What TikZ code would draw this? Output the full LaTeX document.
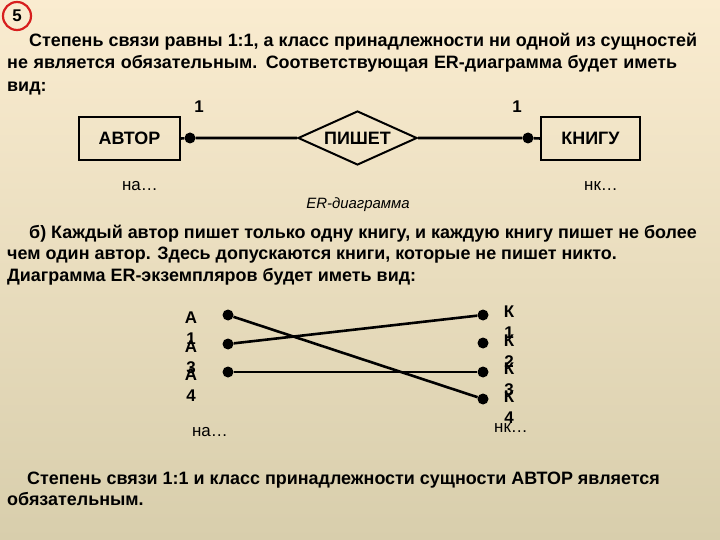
\documentclass[tikz,border=0pt]{standalone}
\usepackage{fontspec}
\setmainfont{Liberation Sans}
\usetikzlibrary{shapes.geometric}
\definecolor{bgtop}{RGB}{250,236,208}
\definecolor{bgbot}{RGB}{216,206,172}
\definecolor{ringred}{RGB}{215,30,30}
\begin{document}
\begin{tikzpicture}[x=1bp,y=-1bp,
  txt/.style={inner sep=0pt,anchor=base west,font=\fontsize{18}{21}\selectfont\bfseries},
  lbl/.style={inner sep=0pt,font=\fontsize{17}{20}\selectfont\bfseries},
  thin lbl/.style={inner sep=0pt,font=\fontsize{17}{20}\selectfont},
  entity/.style={draw,line width=1.6bp,minimum width=101bp,minimum height=43bp,inner sep=0pt,font=\fontsize{18}{21}\selectfont\bfseries},
  rel/.style={draw,diamond,aspect=2,line width=2bp,minimum width=119bp,minimum height=54bp,inner sep=0pt,font=\fontsize{18}{21}\selectfont\bfseries},
  dot/.style={circle,fill=black,inner sep=0pt,minimum size=11bp},
  conn/.style={line width=2.6bp},
  pair/.style={inner sep=0pt,align=center,font=\fontsize{17}{21}\selectfont\bfseries}
]
\useasboundingbox (0,0) rectangle (720,540);
\shade[top color=bgtop,bottom color=bgbot] (0,0) rectangle (720,540);

% badge
\node[circle,draw=ringred,line width=2.2bp,minimum size=28bp,inner sep=0pt,font=\fontsize{17}{19}\selectfont\bfseries] (badge) at (17,16) {5};

% paragraph 1
\node[txt] (p1a) at (29,47) {Степень связи равны 1:1, а класс принадлежности ни одной из сущностей};
\node[txt] (p1b) at (7,69) {\makebox[670bp][s]{не является обязательным. Соответствующая ER-диаграмма будет иметь}};
\node[txt] (p1c) at (7,92) {вид:};

% ER diagram
\node[entity] (avtor) at (129.5,138.5) {АВТОР};
\node[rel] (pishet) at (357.5,138) {ПИШЕТ};
\node[entity,minimum width=99bp] (knigu) at (590.5,138.5) {КНИГУ};
\node[dot] (d1) at (190,138) {};
\node[dot] (d2) at (528,138) {};
\draw[conn] (avtor.east) -- (d1) -- (pishet.west);
\draw[conn] (pishet.east) -- (d2) -- (knigu.west);
\node[lbl] (one1) at (199,107) {1};
\node[lbl] (one2) at (517,107) {1};
\node[thin lbl] (na1) at (140,186) {на…};
\node[thin lbl] (nk1) at (601,186) {нк…};
\node[inner sep=0pt,font=\fontsize{15}{17}\selectfont\itshape] (cap) at (358,205) {ER-диаграмма};

% paragraph 2
\node[txt] (p2a) at (29,239) {б) Каждый автор пишет только одну книгу, и каждую книгу пишет не более};
\node[txt] (p2b) at (7,260) {чем один автор. Здесь допускаются книги, которые не пишет никто.};
\node[txt] (p2c) at (7,282) {Диаграмма ER-экземпляров будет иметь вид:};

% instance diagram
\node[dot] (a1) at (228,315) {};
\node[dot] (a2) at (228,344) {};
\node[dot] (a3) at (228,372) {};
\node[dot] (k1) at (483,315) {};
\node[dot] (k2) at (483,343) {};
\node[dot] (k3) at (483,372) {};
\node[dot] (k4) at (483,399) {};
\draw[conn] (a1) -- (k4);
\draw[conn] (a2) -- (k1);
\draw[line width=2.2bp] (a3) -- (k3);

\node[pair] (la1) at (191,328) {А\\1};
\node[pair] (la3) at (191,357) {А\\3};
\node[pair] (la4) at (191,385) {А\\4};
\node[pair] (lk1) at (509,322) {К\\1};
\node[pair] (lk2) at (509,351) {К\\2};
\node[pair] (lk3) at (509,379) {К\\3};
\node[pair] (lk4) at (509,407) {К\\4};
\node[thin lbl] (na2) at (210,432) {на…};
\node[thin lbl] (nk2) at (511,428) {нк…};

% bottom paragraph
\node[txt] (p3a) at (27,484) {Степень связи 1:1 и класс принадлежности сущности АВТОР является};
\node[txt] (p3b) at (7,505) {обязательным.};
\end{tikzpicture}
\end{document}
